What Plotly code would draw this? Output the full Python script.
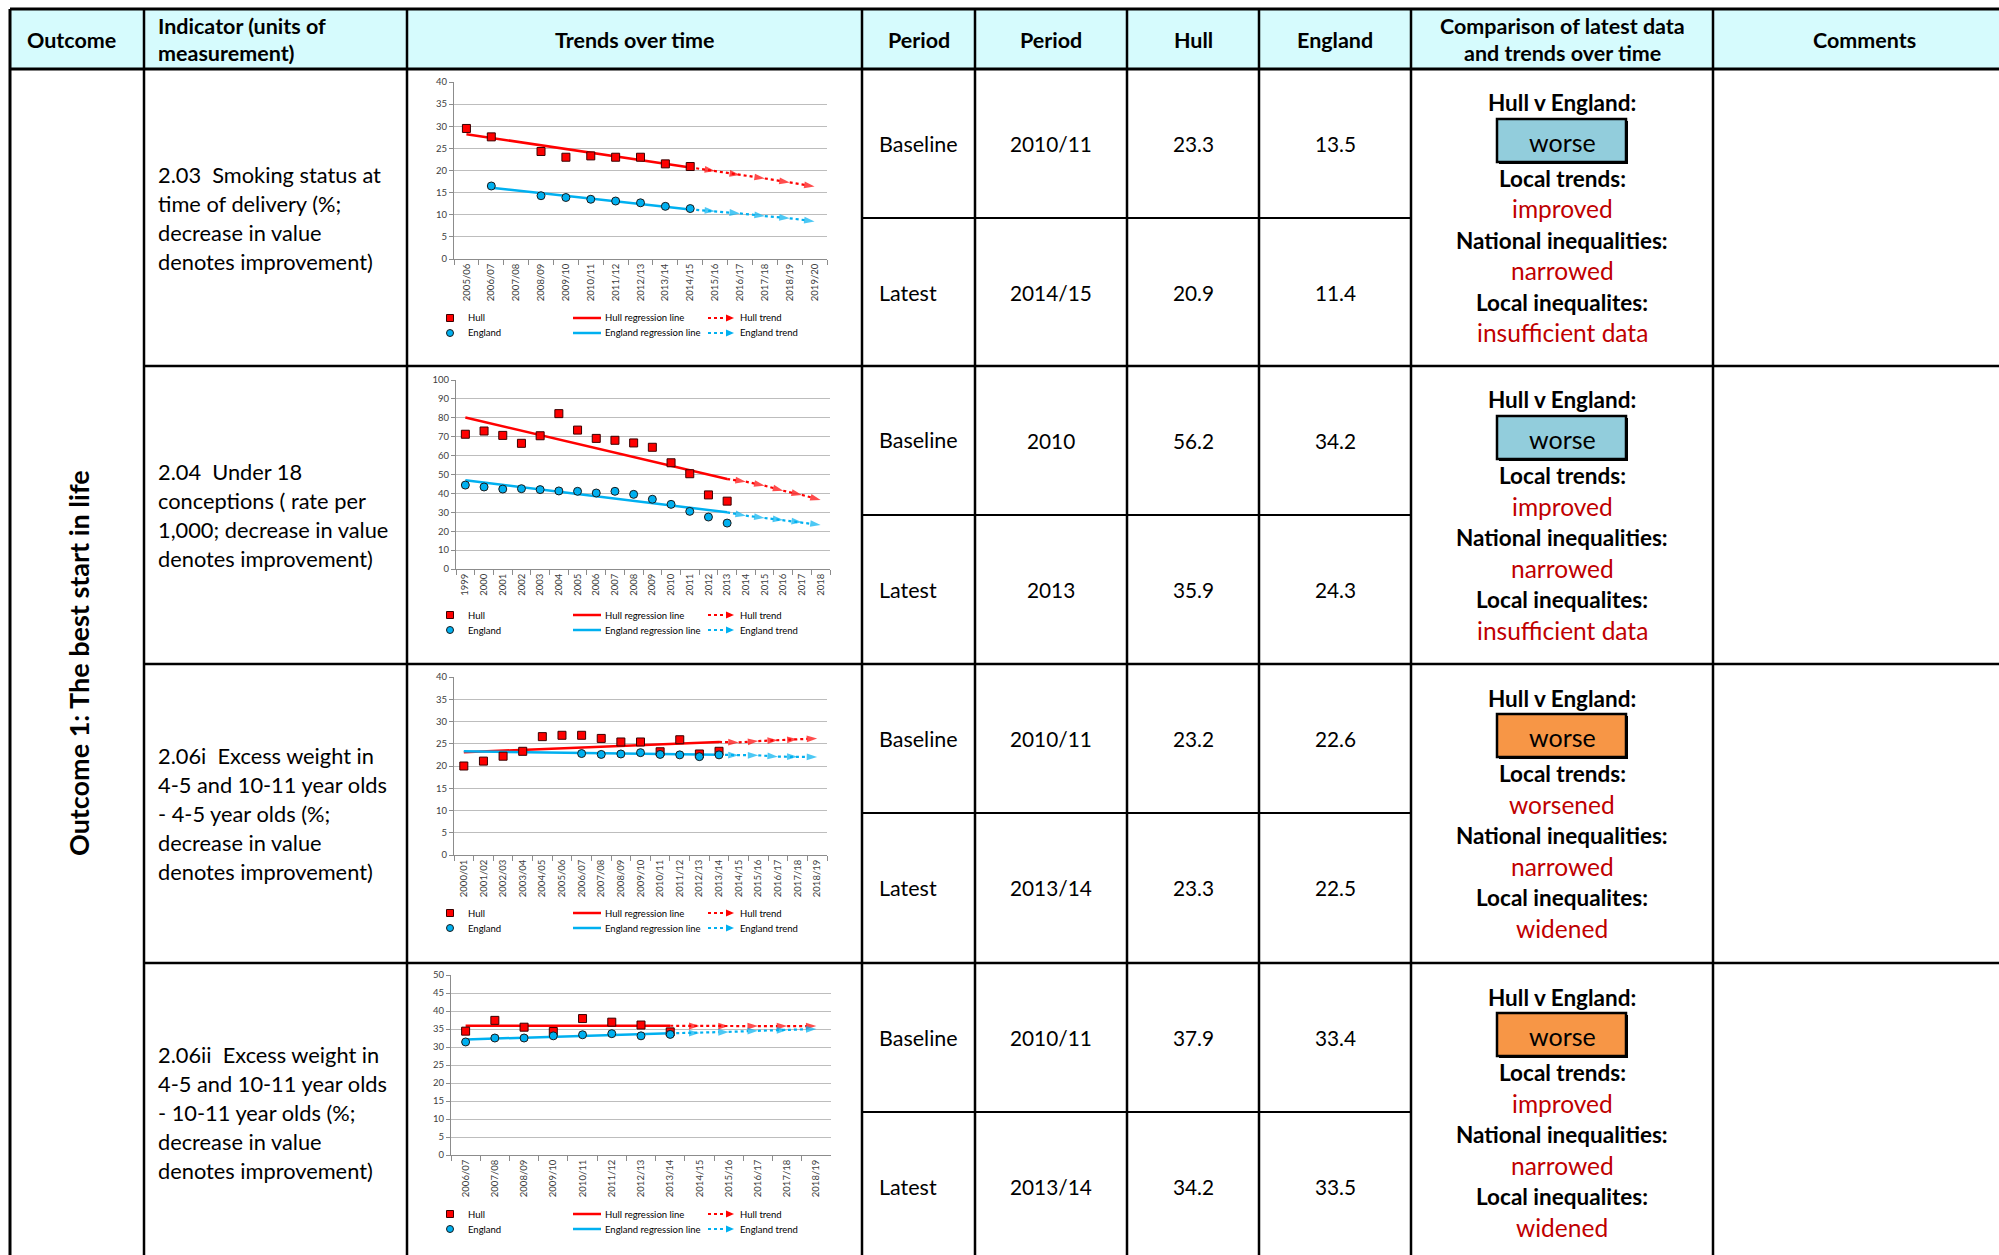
import plotly.graph_objects as go

W, H = 1999, 1255
FONT = "Lato, 'Open Sans', sans-serif"

# ---------------- data ----------------
# Chart 1: 2.03 Smoking status at time of delivery
cats1 = ["2005/06", "2006/07", "2007/08", "2008/09", "2009/10", "2010/11", "2011/12", "2012/13",
         "2013/14", "2014/15", "2015/16", "2016/17", "2017/18", "2018/19", "2019/20"]
hull1 = [29.5, 27.6, None, 24.3, 23.0, 23.3, 23.0, 23.0, 21.5, 20.9]
eng1 = [None, 16.5, None, 14.3, 13.9, 13.5, 13.1, 12.7, 11.9, 11.4]
hull1_reg_x = ["2005/06", "2014/15"]
hull1_reg = [28.2, 20.7]
eng1_reg_x = ["2006/07", "2014/15"]
eng1_reg = [16.1, 11.2]
hull1_trend = [19.9, 19.0, 18.2, 17.3, 16.4]
eng1_trend = [10.8, 10.3, 9.7, 9.2, 8.5]

# Chart 2: 2.04 Under 18 conceptions
cats2 = ["1999", "2000", "2001", "2002", "2003", "2004", "2005", "2006", "2007", "2008",
         "2009", "2010", "2011", "2012", "2013", "2014", "2015", "2016", "2017", "2018"]
hull2 = [71.3, 73.0, 70.7, 66.5, 70.5, 82.2, 73.5, 69.1, 68.1, 66.7, 64.4, 56.2, 50.4, 39.2, 35.9]
eng2 = [44.4, 43.4, 42.3, 42.5, 42.0, 41.3, 41.1, 40.2, 41.1, 39.5, 36.9, 34.2, 30.5, 27.5, 24.3]
hull2_reg_x = ["1999", "2013"]
hull2_reg = [80.2, 47.6]
eng2_reg_x = ["1999", "2013"]
eng2_reg = [46.9, 30.0]
hull2_trend = [46.2, 44.1, 41.4, 39.2, 36.5]
eng2_trend = [28.2, 27.0, 25.9, 24.7, 23.3]

# Chart 3: 2.06i Excess weight 4-5 year olds
cats3 = ["2000/01", "2001/02", "2002/03", "2003/04", "2004/05", "2005/06", "2006/07", "2007/08",
         "2008/09", "2009/10", "2010/11", "2011/12", "2012/13", "2013/14", "2014/15", "2015/16",
         "2016/17", "2017/18", "2018/19"]
hull3 = [20.0, 21.1, 22.2, 23.3, 26.6, 26.9, 26.9, 26.2, 25.4, 25.4, 23.2, 25.9, 22.7, 23.3]
eng3 = [None, None, None, None, None, None, 22.8, 22.6, 22.7, 23.0, 22.6, 22.5, 22.1, 22.5]
hull3_reg_x = ["2000/01", "2013/14"]
hull3_reg = [23.1, 25.4]
eng3_reg_x = ["2000/01", "2013/14"]
eng3_reg = [23.3, 22.5]
hull3_trend = [25.3, 25.6, 25.8, 26.0, 26.2]
eng3_trend = [22.4, 22.4, 22.1, 22.1, 22.0]

# Chart 4: 2.06ii Excess weight 10-11 year olds
cats4 = ["2006/07", "2007/08", "2008/09", "2009/10", "2010/11", "2011/12", "2012/13", "2013/14",
         "2014/15", "2015/16", "2016/17", "2017/18", "2018/19"]
hull4 = [34.4, 37.4, 35.5, 34.3, 37.9, 36.9, 36.1, 34.2]
eng4 = [31.4, 32.5, 32.5, 33.1, 33.4, 33.7, 33.1, 33.5]
hull4_reg_x = ["2006/07", "2013/14"]
hull4_reg = [35.9, 35.9]
eng4_reg_x = ["2006/07", "2013/14"]
eng4_reg = [32.1, 33.8]
hull4_trend = [35.8, 35.8, 35.8, 35.8, 35.8]
eng4_trend = [33.9, 34.2, 34.5, 34.7, 35.0]

y_max = [40, 100, 40, 50]
y_step = [5, 10, 5, 5]

# Table text
header_cols = ["Outcome", "Indicator (units of<br>measurement)", "Trends over time", "Period",
               "Period", "Hull", "England", "Comparison of latest data<br>and trends over time", "Comments"]
outcome_label = "Outcome 1: The best start in life"
indicator_lines = [
    ["2.03  Smoking status at", "time of delivery (%;", "decrease in value", "denotes improvement)"],
    ["2.04  Under 18", "conceptions ( rate per", "1,000; decrease in value", "denotes improvement)"],
    ["2.06i  Excess weight in", "4-5 and 10-11 year olds", "- 4-5 year olds (%;", "decrease in value",
     "denotes improvement)"],
    ["2.06ii  Excess weight in", "4-5 and 10-11 year olds", "- 10-11 year olds (%;", "decrease in value",
     "denotes improvement)"],
]
period_labels = ["Baseline", "Latest"]
period_values = [["2010/11", "2014/15"], ["2010", "2013"], ["2010/11", "2013/14"], ["2010/11", "2013/14"]]
hull_values = [["23.3", "20.9"], ["56.2", "35.9"], ["23.2", "23.3"], ["37.9", "34.2"]]
england_values = [["13.5", "11.4"], ["34.2", "24.3"], ["22.6", "22.5"], ["33.4", "33.5"]]
comparison = ["worse", "worse", "worse", "worse"]
comparison_kind = ["blue", "blue", "orange", "orange"]
local_trends = ["improved", "improved", "worsened", "improved"]
national_ineq = ["narrowed", "narrowed", "narrowed", "narrowed"]
local_ineq = ["insufficient data", "insufficient data", "widened", "widened"]

# ---------------- styling / geometry ----------------
HULL_RED = "#FF0000"
ENG_BLUE = "#00B0F0"
DARK_RED = "#C00000"
BOX_FILL = {"blue": "#92CDDC", "orange": "#F79646"}
HEADER_FILL = "#D6FBFD"
GRID = "#BDBDBD"
AXIS = "#8C8C8C"
TICKC = "#404040"

col_x = [10, 144, 407, 862, 975, 1127, 1259, 1411, 1713]
row_top = [69, 366, 664, 963]
row_h = 298
plot_boxes = [(454, 827, 82, 259), (456, 830, 380, 569), (454, 827, 677, 855), (451, 831, 975, 1155)]
legend_rows = [(318, 333), (615, 630), (913, 928), (1214, 1229)]


def PX(x):
    return x / W


def PY(y):
    return 1 - y / H


shapes = []
annotations = []


def ann(x, y, text, size, bold=False, color="black", xanchor="center", angle=0):
    if bold:
        text = "<b>" + text + "</b>"
    annotations.append(dict(x=PX(x), y=PY(y), xref="paper", yref="paper", text=text, showarrow=False,
                            xanchor=xanchor, yanchor="middle", textangle=angle,
                            font=dict(family=FONT, size=size, color=color)))


def hline(y, x0, x1, w=2.5):
    shapes.append(dict(type="line", xref="paper", yref="paper", x0=PX(x0), x1=PX(x1), y0=PY(y), y1=PY(y),
                       line=dict(color="black", width=w), layer="above"))


def vline(x, y0, y1, w=2.5):
    shapes.append(dict(type="line", xref="paper", yref="paper", x0=PX(x), x1=PX(x), y0=PY(y0), y1=PY(y1),
                       line=dict(color="black", width=w), layer="above"))


# header background
shapes.append(dict(type="rect", xref="paper", yref="paper", x0=PX(10), x1=1, y0=PY(69), y1=PY(9),
                   fillcolor=HEADER_FILL, line=dict(width=0), layer="below"))

# table grid
hline(9, 10, W, 3)
hline(69, 10, W, 3)
for r in row_top[1:]:
    hline(r, 144, W, 2.5)
for r in row_top:
    hline(r + 149, 862, 1411, 2.2)
for i, x in enumerate(col_x):
    vline(x, 9, H, 3 if i == 0 else 2.5)

# header text
hdr_centers = [None, None, 634.5, 918.5, 1051, 1193, 1335, 1562, 1864]
ann(25, 39.5, header_cols[0], 21.5, bold=True, xanchor="left")
for k, line in enumerate(header_cols[1].split("<br>")):
    ann(156, 25.5 + 28 * k, line, 21.5, bold=True, xanchor="left")
for c in range(2, 9):
    parts = header_cols[c].split("<br>")
    if len(parts) == 1:
        ann(hdr_centers[c], 39.5, parts[0], 21.5, bold=True)
    else:
        for k, line in enumerate(parts):
            ann(hdr_centers[c], 25.5 + 28 * k, line, 21.5, bold=True)

# outcome label
ann(78, 663, outcome_label, 27, bold=True, angle=-90)

# rows
for r in range(4):
    top = row_top[r]
    mid = top + row_h / 2
    lines = indicator_lines[r]
    n = len(lines)
    for k, line in enumerate(lines):
        ann(156, mid + (k - (n - 1) / 2) * 29, line, 21.8, xanchor="left")
    for s in range(2):
        yc = top + 74.5 + 149 * s
        ann(877, yc, period_labels[s], 21.5, xanchor="left")
        ann(1051, yc, period_values[r][s], 20.8)
        ann(1193, yc, hull_values[r][s], 20.8)
        ann(1335, yc, england_values[r][s], 20.8)
    # comparison cell
    cx = 1562
    ann(cx, top + 34, "Hull v England:", 22.5, bold=True)
    shapes.append(dict(type="rect", xref="paper", yref="paper", x0=PX(1499), x1=PX(1628),
                       y0=PY(top + 95), y1=PY(top + 52), fillcolor="black", line=dict(width=0),
                       layer="above"))
    shapes.append(dict(type="rect", xref="paper", yref="paper", x0=PX(1497), x1=PX(1626),
                       y0=PY(top + 93), y1=PY(top + 50), fillcolor=BOX_FILL[comparison_kind[r]],
                       line=dict(color="black", width=2.5), layer="above"))
    ann(cx, top + 73, comparison[r], 25)
    ann(cx, top + 109, "Local trends:", 22.5, bold=True)
    ann(cx, top + 140, local_trends[r], 24.5, color=DARK_RED)
    ann(cx, top + 171, "National inequalities:", 22.5, bold=True)
    ann(cx, top + 202, national_ineq[r], 24.5, color=DARK_RED)
    ann(cx, top + 233, "Local inequalites:", 22.5, bold=True)
    ann(cx, top + 264, local_ineq[r], 24.5, color=DARK_RED)

# ---------------- mini charts ----------------
charts = [
    (cats1, hull1, eng1, hull1_reg_x, hull1_reg, eng1_reg_x, eng1_reg, hull1_trend, eng1_trend),
    (cats2, hull2, eng2, hull2_reg_x, hull2_reg, eng2_reg_x, eng2_reg, hull2_trend, eng2_trend),
    (cats3, hull3, eng3, hull3_reg_x, hull3_reg, eng3_reg_x, eng3_reg, hull3_trend, eng3_trend),
    (cats4, hull4, eng4, hull4_reg_x, hull4_reg, eng4_reg_x, eng4_reg, hull4_trend, eng4_trend),
]

fig = go.Figure()
layout_axes = {}
for i, (cats, hull, eng, hrx, hr, erx, er, ht, et) in enumerate(charts):
    n = i + 1
    xa = "x" if n == 1 else "x%d" % n
    ya = "y" if n == 1 else "y%d" % n
    L, R, T, B = plot_boxes[i]
    layout_axes["xaxis" if n == 1 else "xaxis%d" % n] = dict(
        domain=[PX(L), PX(R)], anchor=ya, type="category", categoryorder="array", categoryarray=cats,
        range=[-0.5, len(cats) - 0.5], tickson="boundaries", ticks="outside", ticklen=5,
        tickcolor=AXIS, showline=True, linecolor=AXIS, linewidth=1, showgrid=False, tickangle=-90,
        tickfont=dict(family=FONT, size=9.5, color=TICKC), automargin=False, fixedrange=True)
    layout_axes["yaxis" if n == 1 else "yaxis%d" % n] = dict(
        domain=[PY(B), PY(T)], anchor=xa, range=[0, y_max[i]], dtick=y_step[i], tick0=0,
        ticks="outside", ticklen=4, tickcolor=AXIS, showline=True, linecolor=AXIS, linewidth=1,
        showgrid=True, gridcolor=GRID, gridwidth=1, zeroline=False,
        tickfont=dict(family=FONT, size=9.5, color=TICKC), automargin=False, fixedrange=True)

    # regression lines
    fig.add_trace(go.Scatter(x=hrx, y=hr, mode="lines", line=dict(color=HULL_RED, width=2.5),
                             xaxis=xa, yaxis=ya, showlegend=False, hoverinfo="skip"))
    fig.add_trace(go.Scatter(x=erx, y=er, mode="lines", line=dict(color=ENG_BLUE, width=2.5),
                             xaxis=xa, yaxis=ya, showlegend=False, hoverinfo="skip"))
    # trend lines (continue from regression end)
    for rx, rv, tv, col in ((hrx, hr, ht, HULL_RED), (erx, er, et, ENG_BLUE)):
        start = cats.index(rx[-1])
        tx = [rx[-1]] + cats[start + 1:start + 1 + len(tv)]
        ty = [rv[-1]] + tv
        fig.add_trace(go.Scatter(
            x=tx, y=ty, mode="lines+markers", line=dict(color=col, width=2.2, dash="dot"),
            marker=dict(symbol="arrow", size=[0] + [11] * len(tv), color=col, angleref="previous",
                        line=dict(width=0)),
            xaxis=xa, yaxis=ya, showlegend=False, hoverinfo="skip"))
    # data markers
    fig.add_trace(go.Scatter(x=cats[:len(hull)], y=hull, mode="markers",
                             marker=dict(symbol="square", size=8, color=HULL_RED,
                                         line=dict(color="#3a0000", width=1)),
                             xaxis=xa, yaxis=ya, showlegend=False, name="Hull"))
    fig.add_trace(go.Scatter(x=cats[:len(eng)], y=eng, mode="markers",
                             marker=dict(symbol="circle", size=8, color=ENG_BLUE,
                                         line=dict(color="#1a1a1a", width=1)),
                             xaxis=xa, yaxis=ya, showlegend=False, name="England"))

    # hand-drawn legend (Excel style)
    r1, r2 = legend_rows[i]
    shapes.append(dict(type="rect", xref="paper", yref="paper", x0=PX(446.5), x1=PX(453.5),
                       y0=PY(r1 + 3.5), y1=PY(r1 - 3.5), fillcolor=HULL_RED,
                       line=dict(color="#3a0000", width=1)))
    shapes.append(dict(type="circle", xref="paper", yref="paper", x0=PX(446.5), x1=PX(453.5),
                       y0=PY(r2 + 3.5), y1=PY(r2 - 3.5), fillcolor=ENG_BLUE,
                       line=dict(color="#1a1a1a", width=1)))
    for yy, col in ((r1, HULL_RED), (r2, ENG_BLUE)):
        shapes.append(dict(type="line", xref="paper", yref="paper", x0=PX(573), x1=PX(601),
                           y0=PY(yy), y1=PY(yy), line=dict(color=col, width=2.5)))
        shapes.append(dict(type="line", xref="paper", yref="paper", x0=PX(708), x1=PX(727),
                           y0=PY(yy), y1=PY(yy), line=dict(color=col, width=2, dash="dot")))
        shapes.append(dict(type="path", xref="paper", yref="paper",
                           path="M %f %f L %f %f L %f %f Z" % (PX(726), PY(yy - 3.5), PX(734), PY(yy),
                                                               PX(726), PY(yy + 3.5)),
                           fillcolor=col, line=dict(width=0)))
    ann(466, r1, "Hull", 9.5, xanchor="left")
    ann(466, r2, "England", 9.5, xanchor="left")
    ann(603, r1, "Hull regression line", 9.5, xanchor="left")
    ann(603, r2, "England regression line", 9.5, xanchor="left")
    ann(738, r1, "Hull trend", 9.5, xanchor="left")
    ann(738, r2, "England trend", 9.5, xanchor="left")

fig.update_layout(
    width=W, height=H, margin=dict(l=0, r=0, t=0, b=0, pad=0),
    paper_bgcolor="white", plot_bgcolor="white", showlegend=False,
    font=dict(family=FONT, color="black"),
    shapes=shapes, annotations=annotations, **layout_axes)

fig.write_html("out.html", config={"displayModeBar": False},
               post_script="document.body.style.margin='0px';document.body.style.overflow='hidden';")
